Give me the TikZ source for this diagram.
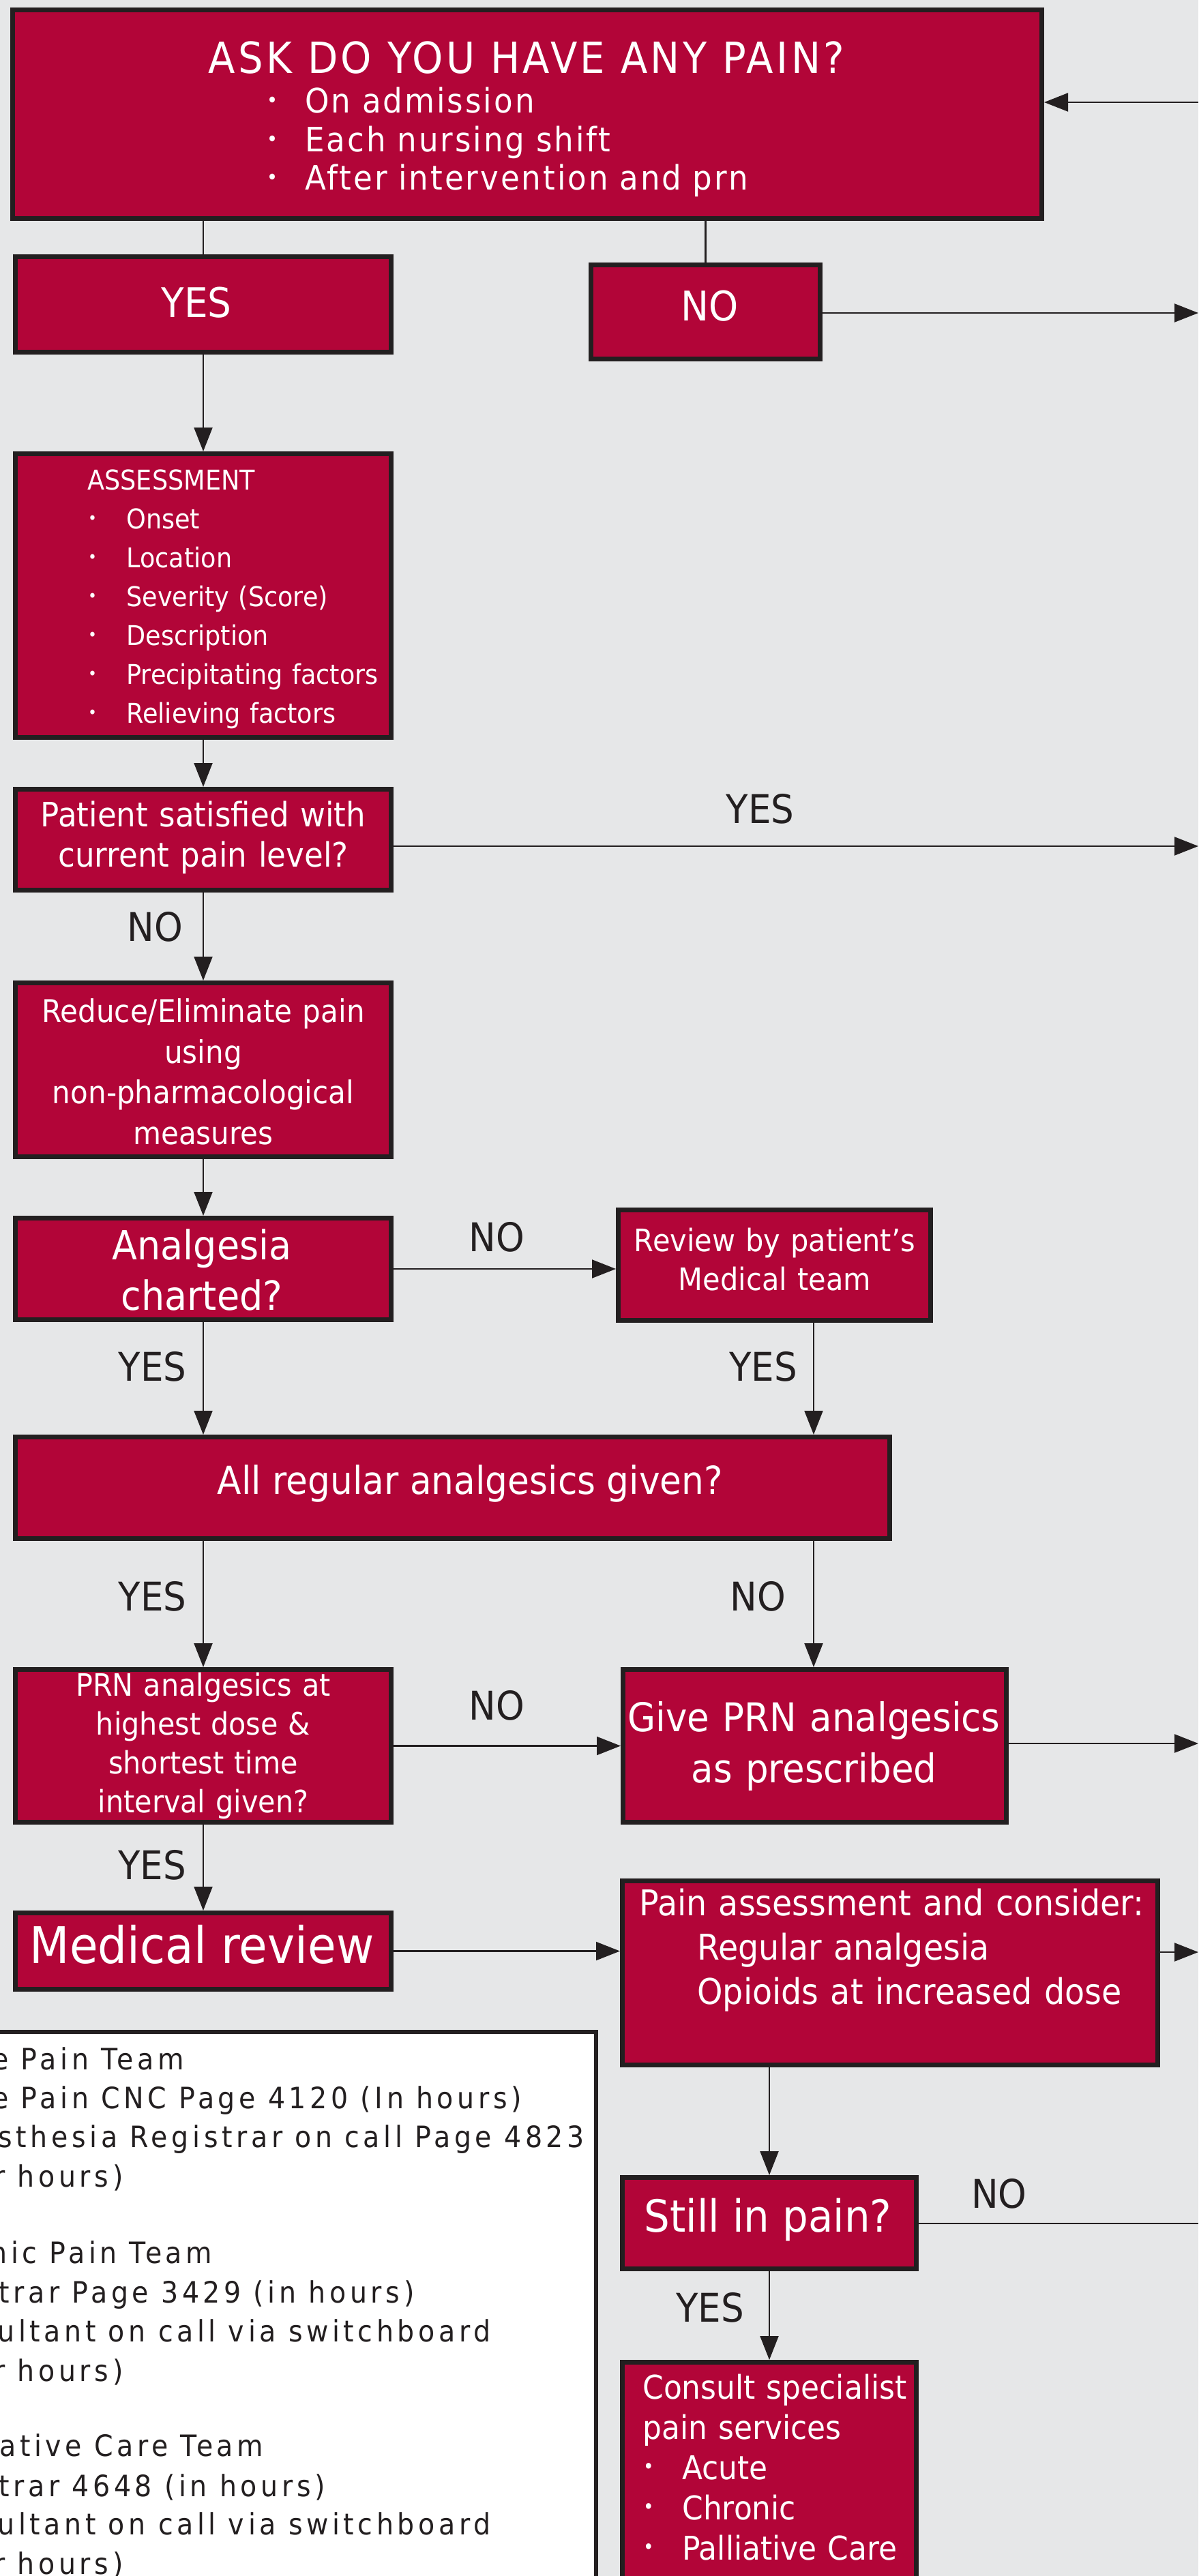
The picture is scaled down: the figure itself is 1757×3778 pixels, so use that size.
\documentclass[tikz,border=0pt]{standalone}
\usepackage{fontspec}
\usepackage{graphicx}
\setmainfont[FakeStretch=0.915]{DejaVu Sans}
\newfontfamily\lsT[FakeStretch=0.915,LetterSpace=7]{DejaVu Sans}
\newfontfamily\lsA[FakeStretch=0.915,LetterSpace=6]{DejaVu Sans}
\newfontfamily\lsB[FakeStretch=0.915,LetterSpace=13]{DejaVu Sans}
\usetikzlibrary{arrows.meta}
\definecolor{bg}{HTML}{E6E7E8}
\definecolor{crim}{HTML}{B20538}
\definecolor{ink}{HTML}{231F20}
\newcommand{\fs}[2]{\fontsize{#1}{#2}\selectfont}
\newcommand{\bul}[1]{\makebox[#1][l]{\hspace*{0.02em}\raisebox{0.17em}{\scalebox{0.6}{•}}}}
\begin{document}
\begin{tikzpicture}[x=0.5pt,y=-0.5pt,
  redbox/.style={draw=ink, fill=crim, line width=3.5pt, inner sep=0pt},
  wtxt/.style={text=white, inner sep=0pt},
  lab/.style={text=ink, inner sep=0pt, anchor=base, font=\fs{29}{34}},
  legtxt/.style={text=ink, inner sep=0pt, anchor=base west, font=\lsB\fs{21.6}{25}},
  conn/.style={draw=ink, line width=1.1pt},
  arr/.style={conn, -{Triangle[length=17.5pt,width=13.5pt]}}]
\useasboundingbox (0,0) rectangle (1757,3778);
\clip (0,0) rectangle (1757,3778);
\fill[bg] (0,0) rectangle (1757,3778);

% ---------- boxes ----------
\node[redbox, minimum width=754.5pt, minimum height=153pt] (top) at (773,167.5) {};
\node[redbox, minimum width=275.5pt, minimum height=70pt] (yes) at (298,446.5) {};
\node[redbox, minimum width=168pt, minimum height=69pt] (no) at (1034.5,457.5) {};
\node[redbox, minimum width=275.5pt, minimum height=208pt] (assess) at (298,873.5) {};
\node[redbox, minimum width=275.5pt, minimum height=74pt] (patient) at (298,1231.5) {};
\node[redbox, minimum width=275.5pt, minimum height=127.5pt] (reduce) at (298,1569) {};
\node[redbox, minimum width=275.5pt, minimum height=74.5pt] (analg) at (298,1861) {};
\node[redbox, minimum width=229pt, minimum height=81pt] (review) at (1135.5,1855.5) {};
\node[redbox, minimum width=641pt, minimum height=74.5pt] (allreg) at (663.5,2182) {};
\node[redbox, minimum width=275.5pt, minimum height=112pt] (prn) at (298,2560.5) {};
\node[redbox, minimum width=281pt, minimum height=112pt] (give) at (1194.5,2560.5) {};
\node[redbox, minimum width=275.5pt, minimum height=56pt] (medical) at (298,2861.5) {};
\node[redbox, minimum width=392.5pt, minimum height=135pt] (pain) at (1305,2893.5) {};
\node[redbox, minimum width=215.5pt, minimum height=67pt] (still) at (1128,3260.5) {};
\node[redbox, minimum width=215.5pt, minimum height=242.75pt] (consult) at (1128,3707.25) {};
\node[draw=ink, fill=white, line width=3pt, inner sep=0pt, minimum width=462pt, minimum height=510pt] (legend) at (412,3490) {};

% ---------- box texts ----------
\node[wtxt, anchor=base, font=\lsT\fs{31.5}{38}] (tTitle) at (772,108) {ASK DO YOU HAVE ANY PAIN?};
\node[wtxt, anchor=base west, text width=500pt, align=left, font=\lsA\fs{24.7}{28.25}] (tTop) at (390,166)
  {\bul{28.5pt}On admission\\ \bul{28.5pt}Each nursing shift\\ \bul{28.5pt}After intervention and prn};
\node[wtxt, anchor=base, font=\fs{30}{36}] (tYes) at (288,466) {YES};
\node[wtxt, anchor=base, font=\fs{30}{36}] (tNo) at (1041,470) {NO};
\node[wtxt, anchor=base west, text width=240pt, align=left, font=\fs{20}{28.5}] (tAssess) at (128,718)
  {ASSESSMENT\\ \bul{28.5pt}Onset\\ \bul{28.5pt}Location\\ \bul{28.5pt}Severity (Score)\\ \bul{28.5pt}Description\\ \bul{28.5pt}Precipitating factors\\ \bul{28.5pt}Relieving factors};
\node[wtxt, anchor=base, text width=270pt, align=center, font=\fs{24.7}{29.5}] (tPatient) at (298,1212)
  {Patient satisfied with\\ current pain level?};
\node[wtxt, anchor=base, text width=270pt, align=center, font=\fs{23}{29.75}] (tReduce) at (298,1499.5)
  {Reduce/Eliminate pain\\ using\\ non-pharmacological\\ measures};
\node[wtxt, anchor=base, text width=270pt, align=center, font=\fs{29.5}{37}] (tAnalg) at (296,1847)
  {Analgesia\\ charted?};
\node[wtxt, anchor=base, text width=225pt, align=center, font=\fs{22.7}{28.75}] (tReview) at (1136,1835)
  {Review by patient’s\\ Medical team};
\node[wtxt, anchor=base, font=\fs{28.3}{34}] (tAllreg) at (689.5,2191) {All regular analgesics given?};
\node[wtxt, anchor=base, text width=270pt, align=center, font=\fs{22.6}{28.5}] (tPrn) at (298,2487)
  {PRN analgesics at\\ highest dose \&\\ shortest time\\ interval given?};
\node[wtxt, anchor=base, text width=280pt, align=center, font=\fs{29}{37.5}] (tGive) at (1193.5,2539)
  {Give PRN analgesics\\ as prescribed};
\node[wtxt, anchor=base, font=\fs{37}{44}] (tMedical) at (296,2879) {Medical review};
\node[wtxt, anchor=base west, text width=390pt, align=left, font=\fs{26}{32.5}] (tPain) at (937,2809)
  {Pain assessment and consider:\\ \hspace*{42.5pt}Regular analgesia\\ \hspace*{42.5pt}Opioids at increased dose};
\node[wtxt, anchor=base, font=\fs{32.5}{38}] (tStill) at (1126,3273) {Still in pain?};
\node[wtxt, anchor=base west, text width=210pt, align=left, font=\fs{24}{29.5}] (tConsult) at (942,3518)
  {Consult specialist\\ pain services\\ \bul{29pt}Acute\\ \bul{29pt}Chronic\\ \bul{29pt}Palliative Care};

% ---------- legend texts (clipped at left edge) ----------
\node[legtxt] (lg1) at (-12,3035.5) {e Pain Team};
\node[legtxt] (lg2) at (-12,3092) {e Pain CNC Page 4120 (In hours)};
\node[legtxt] (lg3) at (-3,3149) {sthesia Registrar on call Page 4823};
\node[legtxt] (lg4) at (-9,3207) {r hours)};
\node[legtxt] (lg5) at (-15,3319) {nic Pain Team};
\node[legtxt] (lg6) at (-2,3377) {trar Page 3429 (in hours)};
\node[legtxt] (lg7) at (-4,3434) {ultant on call via switchboard};
\node[legtxt] (lg8) at (-9,3492) {r hours)};
\node[legtxt] (lg9) at (-1,3602) {ative Care Team};
\node[legtxt] (lg10) at (-2,3661) {trar 4648 (in hours)};
\node[legtxt] (lg11) at (-4,3717) {ultant on call via switchboard};
\node[legtxt] (lg12) at (-9,3775) {r hours)};

% ---------- edge coordinates ----------
\coordinate (E1) at (1757,150);
\coordinate (E2) at (1757,459);
\coordinate (E3) at (1757,1241);
\coordinate (E4) at (1757,2557);
\coordinate (E5) at (1757,2863);
\coordinate (E6) at (1757,3261);
\coordinate (RC) at (1193,0);

% ---------- connectors ----------
\draw[arr] (E1) -- (E1 -| top.east);
\draw[conn] (yes.north |- top.south) -- (yes.north);
\draw[conn] (no.north |- top.south) -- (no.north);
\draw[arr] (no.east |- E2) -- (E2);
\draw[arr] (yes.south) -- (assess.north);
\draw[arr] (assess.south) -- (patient.north);
\draw[arr] (patient.east |- E3) -- (E3);
\draw[arr] (patient.south) -- (reduce.north);
\draw[arr] (reduce.south) -- (analg.north);
\draw[arr] (analg.east) -- (analg.east -| review.west);
\draw[arr] (analg.south) -- (allreg.north -| analg.south);
\draw[arr] (RC |- review.south) -- (RC |- allreg.north);
\draw[arr] (allreg.south -| prn.north) -- (prn.north);
\draw[arr] (RC |- allreg.south) -- (RC |- give.north);
\draw[arr] (prn.east) -- (prn.east -| give.west);
\draw[arr] (give.east |- E4) -- (E4);
\draw[arr] (prn.south) -- (medical.north);
\draw[arr] (medical.east) -- (medical.east -| pain.west);
\draw[arr] (pain.east |- E5) -- (E5);
\draw[arr] (still.north |- pain.south) -- (still.north);
\draw[conn] (still.east |- E6) -- (E6);
\draw[arr] (still.south) -- (consult.north);

% ---------- connector labels ----------
\node[lab] (l1) at (1114.5,1207) {YES};
\node[lab] (l2) at (227.5,1380) {NO};
\node[lab] (l3) at (728.5,1835) {NO};
\node[lab] (l4) at (223.5,2025) {YES};
\node[lab] (l5) at (1119,2025) {YES};
\node[lab] (l6) at (223.5,2362) {YES};
\node[lab] (l7) at (1111.5,2362) {NO};
\node[lab] (l8) at (728.5,2522) {NO};
\node[lab] (l9) at (223,2756) {YES};
\node[lab] (l10) at (1465,3238) {NO};
\node[lab] (l11) at (1041,3405) {YES};
\end{tikzpicture}
\end{document}
